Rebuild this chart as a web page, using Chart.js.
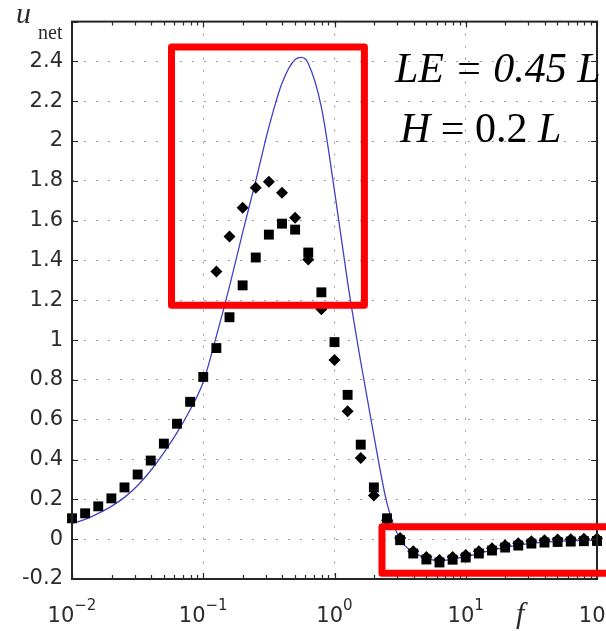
<!DOCTYPE html>
<html>
<head>
<meta charset="utf-8">
<script src="https://cdn.jsdelivr.net/npm/chart.js@4"></script>
<style>
  body { margin: 0; background: #fff; }
  canvas { display: block; }
</style>
</head>
<body>
<canvas id="chart" width="606" height="631"></canvas>
<script>
// --- Data (x given as log10 f) ---
const squareExp = [-2.0, -1.9, -1.8, -1.7, -1.6, -1.5, -1.4, -1.3, -1.2, -1.1,
                   -1.0, -0.9, -0.8, -0.7, -0.6, -0.5, -0.4, -0.3, -0.2, -0.1,
                    0.0,  0.1,  0.2,  0.3,  0.4,  0.5,  0.6,  0.7,  0.8,  0.9,
                    1.0,  1.1,  1.2,  1.3,  1.4,  1.5,  1.6,  1.7,  1.8,  1.9, 2.0];
const squareVal = [0.105, 0.13, 0.165, 0.205, 0.26, 0.325, 0.395, 0.48, 0.58, 0.69,
                   0.815, 0.96, 1.115, 1.275, 1.415, 1.53, 1.585, 1.555, 1.44, 1.24,
                   0.99, 0.725, 0.475, 0.26, 0.105, -0.005, -0.072, -0.102, -0.117, -0.103,
                   -0.092, -0.072, -0.057, -0.042, -0.032, -0.022, -0.017, -0.014, -0.012, -0.01, -0.009];

const diamondExp = [-0.9, -0.8, -0.7, -0.6, -0.5, -0.4, -0.3, -0.2, -0.1, 0.0,
                     0.1,  0.2,  0.3,  0.4,  0.5,  0.6,  0.7,  0.8,  0.9, 1.0,
                     1.1,  1.2,  1.3,  1.4,  1.5,  1.6,  1.7,  1.8,  1.9, 2.0];
const diamondVal = [1.345, 1.52, 1.665, 1.765, 1.795, 1.74, 1.615, 1.405, 1.155, 0.9,
                    0.643, 0.408, 0.22, 0.095, 0.006, -0.06, -0.09, -0.105, -0.09, -0.08,
                    -0.06, -0.045, -0.03, -0.02, -0.01, -0.005, -0.002, 0.0, 0.002, 0.003];

const curveExp = [-2.0, -1.9, -1.8, -1.7, -1.6, -1.5, -1.4, -1.3, -1.2, -1.1,
                  -1.0, -0.9, -0.8, -0.7, -0.6, -0.5, -0.4, -0.3, -0.25, -0.2,
                  -0.1, 0.0, 0.1, 0.2, 0.3, 0.4, 0.5, 0.6, 0.7, 0.8,
                   0.9, 1.0, 1.2, 1.4, 1.6, 1.8, 2.0];
const curveVal = [0.08, 0.10, 0.13, 0.165, 0.21, 0.27, 0.345, 0.435, 0.535, 0.65,
                  0.79, 1.02, 1.27, 1.54, 1.80, 2.07, 2.29, 2.41, 2.42, 2.39,
                  2.17, 1.75, 1.29, 0.89, 0.52, 0.18, 0.0, -0.065, -0.095, -0.108,
                  -0.1, -0.088, -0.055, -0.03, -0.015, -0.008, -0.005];

const yTickLabels = ['-0.2', '0', '0.2', '0.4', '0.6', '0.8', '1', '1.2', '1.4', '1.6', '1.8', '2', '2.2', '2.4'];
const xTickExps = [-2, -1, 0, 1, 2];

// red highlight boxes, in data units (f, u)
const highlightBoxes = [
    { f0: 0.0573, f1: 1.69, u0: 1.175, u1: 2.473 },
    { f0: 2.30, f1: 125, u0: -0.171, u1: 0.063 }
];

const toPoints = (exps, vals) => exps.map((e, i) => ({ x: Math.pow(10, e), y: vals[i] }));

const textColor = '#2b2b2b';
const frameColor = '#262626';
const isDecade = v => Math.abs(Math.log10(v) - Math.round(Math.log10(v))) < 1e-6;

// frame, inward ticks, exponent tick labels, axis titles, annotations
const decorPlugin = {
    id: 'decor',
    afterDraw(chart) {
        const { ctx, chartArea: a, scales: { x, y } } = chart;
        ctx.save();

        // frame
        ctx.strokeStyle = frameColor;
        ctx.lineWidth = 2;
        ctx.strokeRect(a.left, a.top, a.right - a.left, a.bottom - a.top);

        // inward ticks on x (major + minor)
        ctx.lineWidth = 1.2;
        ctx.beginPath();
        for (let e = -2; e <= 2; e++) {
            for (let m = 1; m <= 9; m++) {
                const v = m * Math.pow(10, e);
                if (v > 100.0001) break;
                const px = Math.round(x.getPixelForValue(v)) + 0.5;
                const len = m === 1 ? 6 : 4;
                ctx.moveTo(px, a.bottom); ctx.lineTo(px, a.bottom - len);
                ctx.moveTo(px, a.top); ctx.lineTo(px, a.top + len);
            }
        }
        // inward ticks on y
        y.ticks.forEach(t => {
            const py = Math.round(y.getPixelForValue(t.value)) + 0.5;
            ctx.moveTo(a.left, py); ctx.lineTo(a.left + 6, py);
            ctx.moveTo(a.right, py); ctx.lineTo(a.right - 6, py);
        });
        ctx.stroke();

        // x tick labels 10^n
        ctx.fillStyle = textColor;
        ctx.textBaseline = 'alphabetic';
        ctx.textAlign = 'left';
        xTickExps.forEach(e => {
            const px = x.getPixelForValue(Math.pow(10, e));
            const base = '10';
            const exp = e < 0 ? '\u2212' + Math.abs(e) : String(e);
            ctx.font = '21px "DejaVu Sans"';
            const wb = ctx.measureText(base).width;
            ctx.font = '15px "DejaVu Sans"';
            const we = ctx.measureText(exp).width;
            const left = px - (wb + we) / 2;
            ctx.font = '21px "DejaVu Sans"';
            ctx.fillText(base, left, 622);
            ctx.font = '15px "DejaVu Sans"';
            ctx.fillText(exp, left + wb, 610);
        });

        // axis titles
        ctx.fillStyle = textColor;
        ctx.font = 'italic 30px "Liberation Serif"';
        ctx.fillText('u', 16, 23);
        ctx.font = '20px "Liberation Serif"';
        ctx.fillText('net', 38, 39);
        ctx.font = 'italic 30px "Liberation Serif"';
        ctx.fillText('f', 516, 623);

        // parameter annotations
        ctx.fillStyle = '#000';
        ctx.font = 'italic 42px "Liberation Serif"';
        ctx.fillText('LE = 0.45 L', 395, 82);
        let cx = 400;
        const parts = [['H', true], [' = 0.2 ', false], ['L', true]];
        parts.forEach(([s, it]) => {
            ctx.font = (it ? 'italic ' : '') + '42px "Liberation Serif"';
            ctx.fillText(s, cx, 142);
            cx += ctx.measureText(s).width;
        });

        // red highlight boxes
        ctx.strokeStyle = '#ff0000';
        ctx.lineWidth = 7;
        ctx.lineJoin = 'round';
        highlightBoxes.forEach(b => {
            const x0 = x.getPixelForValue(b.f0), x1 = x.getPixelForValue(b.f1);
            const y0 = y.getPixelForValue(b.u1), y1 = y.getPixelForValue(b.u0);
            ctx.strokeRect(x0, y0, x1 - x0, y1 - y0);
        });

        ctx.restore();
    }
};

const ctx = document.getElementById('chart').getContext('2d');

new Chart(ctx, {
    type: 'line',
    data: {
        datasets: [
            {
                label: 'squares',
                data: toPoints(squareExp, squareVal),
                showLine: false,
                pointStyle: 'rect',
                pointRadius: 7,
                pointBackgroundColor: '#000',
                pointBorderColor: '#000',
                pointBorderWidth: 0,
                clip: false
            },
            {
                label: 'diamonds',
                data: toPoints(diamondExp, diamondVal),
                showLine: false,
                pointStyle: 'rectRot',
                pointRadius: 6,
                pointBackgroundColor: '#000',
                pointBorderColor: '#000',
                pointBorderWidth: 0,
                clip: false
            },
            {
                label: 'model',
                data: toPoints(curveExp, curveVal),
                borderColor: '#4040c8',
                borderWidth: 1.3,
                pointRadius: 0,
                fill: false,
                cubicInterpolationMode: 'monotone'
            }
        ]
    },
    options: {
        responsive: false,
        animation: false,
        layout: { padding: { top: 15, right: 9, left: 0, bottom: 0 } },
        plugins: {
            legend: { display: false },
            tooltip: { enabled: false }
        },
        scales: {
            x: {
                type: 'logarithmic',
                position: 'bottom',
                min: 0.01,
                max: 100,
                afterFit: axis => { axis.height = 52; },
                ticks: { display: false },
                border: { display: false, dash: [2, 10] },
                grid: {
                    drawTicks: false,
                    lineWidth: 1,
                    color: c => (c.tick && isDecade(c.tick.value)) ? '#9a9a9a' : 'rgba(0,0,0,0)'
                }
            },
            y: {
                type: 'linear',
                position: 'left',
                min: -0.2,
                max: 2.6,
                afterFit: axis => { axis.width = 72; },
                ticks: {
                    stepSize: 0.2,
                    padding: 9,
                    color: textColor,
                    font: { family: 'DejaVu Sans', size: 21 },
                    callback: v => {
                        const i = Math.round((v + 0.2) / 0.2);
                        return yTickLabels[i] !== undefined ? yTickLabels[i] : '';
                    }
                },
                border: { display: false, dash: [2, 10] },
                grid: {
                    drawTicks: false,
                    lineWidth: 1,
                    color: '#9a9a9a'
                }
            }
        }
    },
    plugins: [decorPlugin]
});
</script>
</body>
</html>
